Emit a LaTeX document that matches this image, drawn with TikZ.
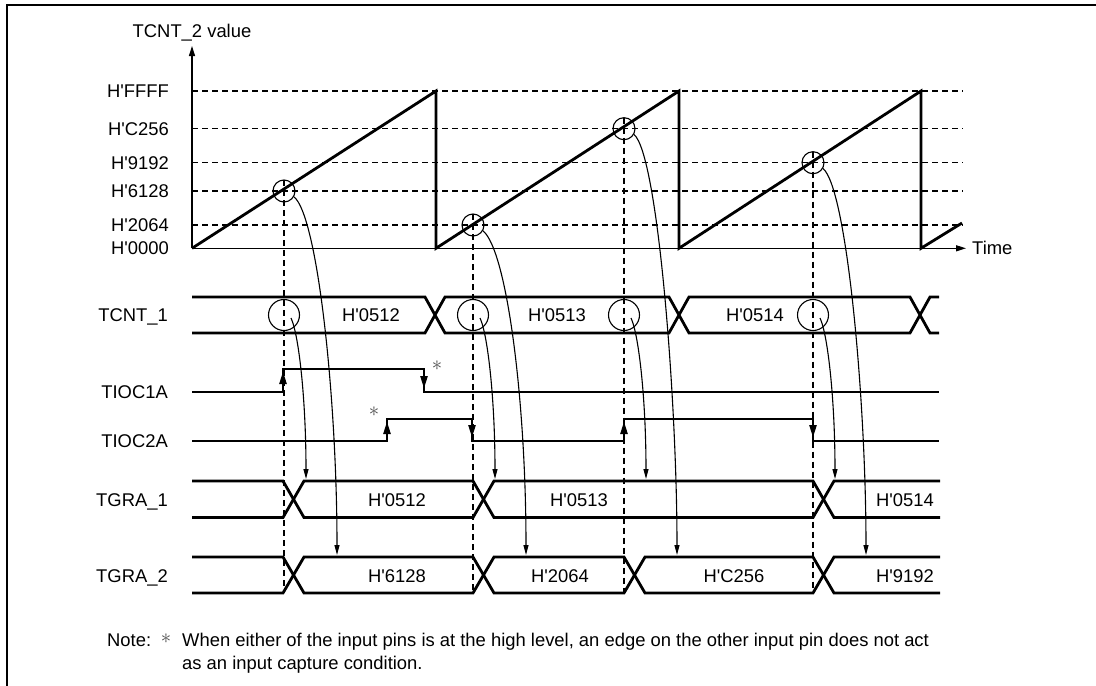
\documentclass[tikz,border=0pt]{standalone}
\usepackage{fontspec}
\setmainfont{Liberation Sans}
\usetikzlibrary{arrows.meta}
\tikzset{
    sigtext/.style={font=\fontsize{18.4}{22}\selectfont, inner sep=0pt,
        text height=13pt, text depth=0pt},
    wave/.style={line width=2.8pt},
    gridline/.style={line width=1.2pt, dash pattern=on 6pt off 4pt},
    axisarrow/.style={-{Triangle[length=10pt,width=6pt]}, line width=1.3pt},
    edgearrow/.style={-{Triangle[length=12pt,width=7.5pt]}, line width=1pt},
    flowarrow/.style={-{Triangle[length=10pt,width=5pt]}, line width=1.1pt},
    capring/.style={draw, circle, minimum size=22pt, inner sep=0pt, line width=1.1pt},
    busring/.style={draw, circle, minimum size=31pt, inner sep=0pt, line width=1.1pt},
    starmark/.style={font=\fontsize{20}{20}\selectfont, inner sep=0pt, text=black!70}
}
\newcommand{\hx}{H\textquotesingle}

\begin{document}
\begin{tikzpicture}[x=1pt, y=-1pt]
\useasboundingbox (0,0) rectangle (1096,686);
\draw[line width=2.5pt] (1096,5) -- (7,5) -- (7,686);

\foreach \y in {91,128.7,162.7,191,225}
    \draw[gridline] (192,\y) -- (963,\y);
\foreach \t/\v in {284/191, 473/225, 624/128.7, 813/162.7}
    \draw[gridline] (\t,\v-11) -- (\t,593);

\node[sigtext] (axislbl) at (192,31) {TCNT\_2 value};
\node[sigtext, anchor=west] (timelbl) at (972,248.3) {Time};
\draw[axisarrow] (192,248.3) -- (192,46);
\draw[axisarrow, shorten >=6pt] (192,248.3) -- (timelbl.west);
\foreach \y/\lab in {91/FFFF, 128.7/C256, 162.7/9192, 191/6128, 225/2064, 248.3/0000}
    \node[sigtext, anchor=east] (lvl\lab) at (169,\y) {\hx\lab};
\draw[wave] (192,248.3) -- (436,91) -- (436,248.3) -- (679,91) -- (679,248.3)
    -- (921,91) -- (921,248.3) -- (962,223);

\node[sigtext, anchor=east] (lblcnt) at (168,315) {TCNT\_1};
\node[sigtext, anchor=east] (lblioca) at (168,392) {TIOC1A};
\node[sigtext, anchor=east] (lbliocb) at (168,441) {TIOC2A};
\node[sigtext, anchor=east] (lblrega) at (168,500) {TGRA\_1};
\node[sigtext, anchor=east] (lblregb) at (168,576) {TGRA\_2};

\draw[wave] (192,297) -- (425,297) -- (445,333) -- (669,333) -- (689,297) -- (910,297) -- (930,333) -- (939,333);
\draw[wave] (192,333) -- (425,333) -- (445,297) -- (669,297) -- (689,333) -- (910,333) -- (930,297) -- (939,297);
\node[sigtext] (cnt0512) at (371,315) {\hx0512};
\node[sigtext] (cnt0513) at (557,315) {\hx0513};
\node[sigtext] (cnt0514) at (755,315) {\hx0514};

\draw[wave] (192,392) -- (283,392) -- (283,369) -- (424,369) -- (424,392) -- (939,392);
\draw[wave] (192,441) -- (387,441) -- (387,419) -- (472,419) -- (472,441) -- (624,441)
    -- (624,419) -- (813,419) -- (813,441) -- (939,441);
\draw[edgearrow] (283,392) -- (283,372);
\draw[edgearrow] (424,369) -- (424,388);
\draw[edgearrow] (387,441) -- (387,422);
\draw[edgearrow] (472,419) -- (472,437);
\draw[edgearrow] (624,441) -- (624,422);
\draw[edgearrow] (813,419) -- (813,437);
\node[starmark] (stara) at (437,366) {$\ast$};
\node[starmark] (starb) at (374,412) {$\ast$};

\draw[wave] (192,481) -- (283,481) -- (304,517.5) -- (473,517.5) -- (494,481) -- (813,481) -- (834,517.5) -- (940,517.5);
\draw[wave] (192,517.5) -- (283,517.5) -- (304,481) -- (473,481) -- (494,517.5) -- (813,517.5) -- (834,481) -- (940,481);
\node[sigtext] (rega0512) at (397,500) {\hx0512};
\node[sigtext] (rega0513) at (579,500) {\hx0513};
\node[sigtext] (rega0514) at (905,500) {\hx0514};

\draw[wave] (192,557) -- (283,557) -- (304,593) -- (473,593) -- (494,557) -- (624,557) -- (645,593)
    -- (813,593) -- (834,557) -- (940,557);
\draw[wave] (192,593) -- (283,593) -- (304,557) -- (473,557) -- (494,593) -- (624,593) -- (645,557)
    -- (813,557) -- (834,593) -- (940,593);
\node[sigtext] (regb6128) at (397,576) {\hx6128};
\node[sigtext] (regb2064) at (560,576) {\hx2064};
\node[sigtext] (regbC256) at (734,576) {\hx C256};
\node[sigtext] (regb9192) at (905,576) {\hx9192};

\foreach \t/\v/\n in {284/191/a, 473/225/b, 624/128.7/c, 813/162.7/d} {
    \node[capring] (ramp\n) at (\t,\v) {};
    \node[busring] (cnt\n) at (\t,315) {};
    \coordinate (rega\n) at (\t+22,479);
    \coordinate (regb\n) at (\t+53,555);
    \draw[flowarrow] (ramp\n.-30) .. controls +(24,20) and +(0,-154) .. (regb\n);
    \draw[flowarrow] ([shift={(7,3)}]cnt\n.center) .. controls +(8,17) and +(0,-78) .. (rega\n);
}

\node[sigtext, anchor=west] (notelbl) at (107,640) {Note:};
\node[starmark] (notestar) at (166,639) {$\ast$};
\node[sigtext, anchor=west] (notea) at (182,640) {When either of the input pins is at the high level, an edge on the other input pin does not act};
\node[sigtext, anchor=west] (noteb) at (182,663.3) {as an input capture condition.};
\end{tikzpicture}
\end{document}
